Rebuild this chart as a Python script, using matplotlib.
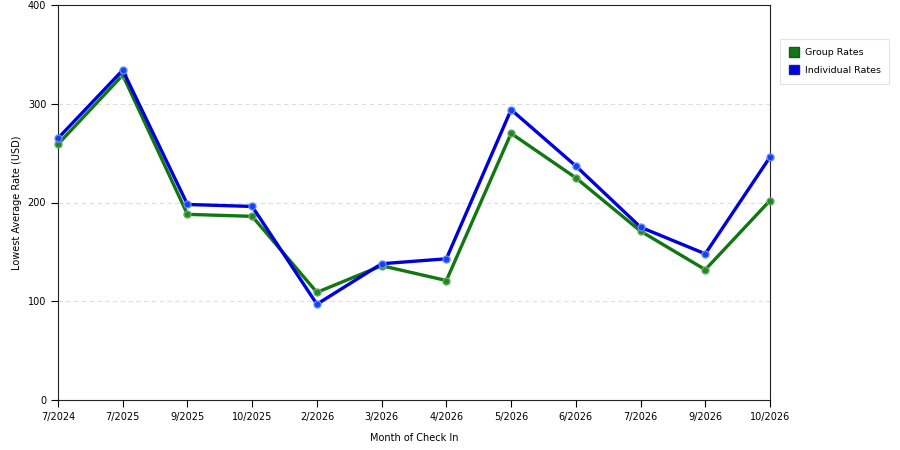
import matplotlib
matplotlib.use("Agg")
import matplotlib.pyplot as plt
from matplotlib.patches import Patch

months = ["7/2024", "7/2025", "9/2025", "10/2025", "2/2026", "3/2026",
          "4/2026", "5/2026", "6/2026", "7/2026", "9/2026", "10/2026"]
group_rates = [259, 329, 188, 186, 109, 136, 121, 270, 225, 171, 132, 202]
individual_rates = [265, 334, 198, 196, 97, 138, 143, 294, 237, 175, 148, 246]


def main():
    plt.rcParams['font.family'] = ['DejaVu Sans']
    fig = plt.figure(figsize=(9, 4.5), dpi=100)
    ax = fig.add_axes([58 / 900, 50 / 450, 712 / 900, 395 / 450])

    x = list(range(len(months)))
    ax.plot(x, group_rates, color="#117711", lw=2.4, marker="o", ms=5,
            mfc="#228822", mec="#66aa66", mew=1, zorder=3, clip_on=False)
    ax.plot(x, individual_rates, color="#0000dd", lw=2.4, marker="o", ms=5,
            mfc="#1144ee", mec="#6688ee", mew=1, zorder=4, clip_on=False)

    ax.set_xlim(0, len(months) - 1)
    ax.set_ylim(0, 400)
    ax.set_xticks(x)
    ax.set_xticklabels(months)
    ax.set_yticks([0, 100, 200, 300, 400])
    ax.tick_params(labelsize=7, length=5, direction="out", width=0.8)
    for y in [100, 200, 300]:
        ax.axhline(y, color="#dddddd", lw=0.8, ls=(0, (4, 3)), zorder=1)
    for s in ax.spines.values():
        s.set_linewidth(0.8)
        s.set_color("#222222")

    ax.set_xlabel("Month of Check In", fontsize=7, labelpad=8)
    ax.set_ylabel("Lowest Average Rate (USD)", fontsize=7)
    ax.yaxis.set_label_coords(-0.05, 0.5)

    handles = [Patch(facecolor="#117711", edgecolor="#225522"),
               Patch(facecolor="#0000ee", edgecolor="#222266")]
    leg = fig.legend(handles, ["Group Rates", "Individual Rates"],
                     loc="upper left", bbox_to_anchor=(780 / 900, 1 - 39 / 450),
                     borderaxespad=0, fontsize=6.8, frameon=True, fancybox=False,
                     handlelength=1.1, handleheight=1.1, borderpad=0.9,
                     labelspacing=0.85, handletextpad=0.6, edgecolor="#dddddd")
    leg.get_frame().set_linewidth(0.8)

    fig.savefig("out.png", dpi=100)


if __name__ == "__main__":
    main()
